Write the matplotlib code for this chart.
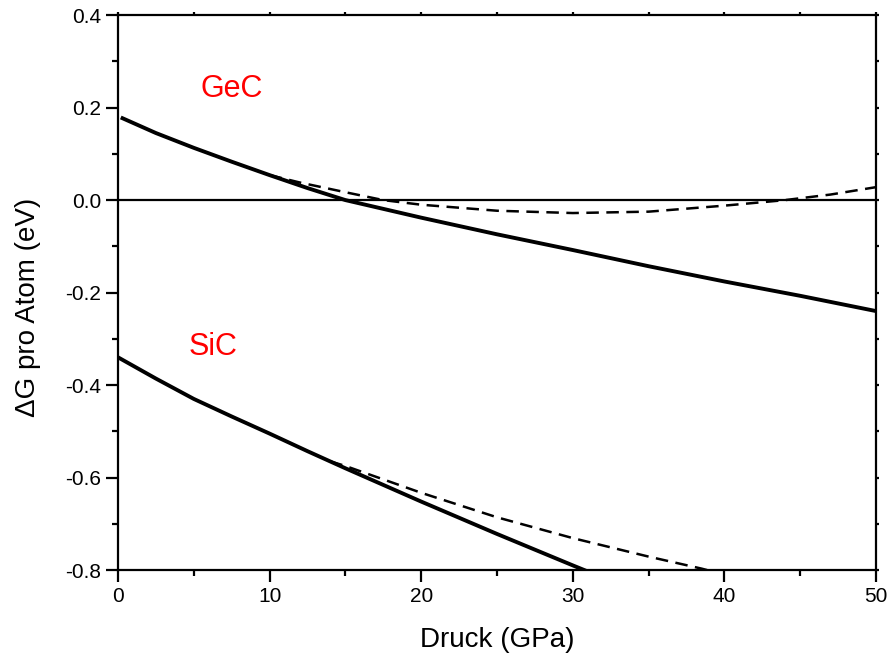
import numpy as np
import matplotlib
matplotlib.use("Agg")
import matplotlib.pyplot as plt
from matplotlib.ticker import MultipleLocator, FormatStrFormatter

plt.rcParams['font.family'] = ['Liberation Sans', 'DejaVu Sans']
plt.rcParams['axes.unicode_minus'] = False

# GeC, solid (stable phase)
gec_p = [0.3, 2.5, 5, 7.5, 10, 12.5, 15, 20, 25, 30, 35, 40, 45, 50]
gec_g = [0.177, 0.145, 0.113, 0.083, 0.054, 0.026, 0.0, -0.038, -0.074, -0.108, -0.143, -0.176, -0.207, -0.24]
# GeC, dashed
gec_dp = [10, 12, 15, 17.5, 20, 25, 30, 35, 40, 44, 47, 50]
gec_dg = [0.054, 0.038, 0.017, 0.0, -0.01, -0.023, -0.028, -0.025, -0.012, 0.0, 0.012, 0.028]

# SiC, solid
sic_p = [0, 2.5, 5, 7.5, 10, 12.5, 15, 20, 25, 30, 31.5]
sic_g = [-0.34, -0.386, -0.43, -0.468, -0.505, -0.543, -0.58, -0.652, -0.722, -0.79, -0.81]
# SiC, dashed
sic_dp = [14, 15, 20, 25, 30, 35, 38.5, 40]
sic_dg = [-0.565, -0.575, -0.633, -0.686, -0.731, -0.771, -0.797, -0.81]

fig = plt.figure(figsize=(8.9, 6.58), dpi=100)
ax = fig.add_axes([0.1326, 0.1337, 0.8517, 0.8433])

ax.axhline(0, color='black', lw=1.6)
ax.plot(gec_p, gec_g, color='black', lw=2.8)
ax.plot(gec_dp, gec_dg, color='black', lw=1.8, ls=(0, (5, 3)))
ax.plot(sic_p, sic_g, color='black', lw=2.8)
ax.plot(sic_dp, sic_dg, color='black', lw=1.8, ls=(0, (5, 3)))

ax.text(7.5, 0.24, 'GeC', color='red', fontsize=22, ha='center', va='center')
ax.text(6.3, -0.318, 'SiC', color='red', fontsize=22, ha='center', va='center')

ax.set_xlim(0, 50)
ax.set_ylim(-0.8, 0.4)
ax.xaxis.set_major_locator(MultipleLocator(10))
ax.xaxis.set_minor_locator(MultipleLocator(5))
ax.yaxis.set_major_locator(MultipleLocator(0.2))
ax.yaxis.set_minor_locator(MultipleLocator(0.1))
ax.yaxis.set_major_formatter(FormatStrFormatter('%.1f'))

for s in ax.spines.values():
    s.set_linewidth(1.6)

ax.tick_params(which='major', direction='out', length=8.5, width=1.6, labelsize=15)
ax.tick_params(which='minor', direction='out', length=4.5, width=1.6)
ax.tick_params(which='both', top=True, right=True)
for t in ax.xaxis.get_major_ticks() + ax.xaxis.get_minor_ticks():
    t.tick2line.set_markersize(2)
for t in ax.yaxis.get_major_ticks() + ax.yaxis.get_minor_ticks():
    t.tick2line.set_markersize(2)

ax.set_xlabel('Druck (GPa)', fontsize=20, labelpad=15)
ax.set_ylabel('\u0394G pro Atom (eV)', fontsize=20)
ax.yaxis.set_label_coords(-0.102, 0.474)

fig.savefig('out.png', dpi=100)
